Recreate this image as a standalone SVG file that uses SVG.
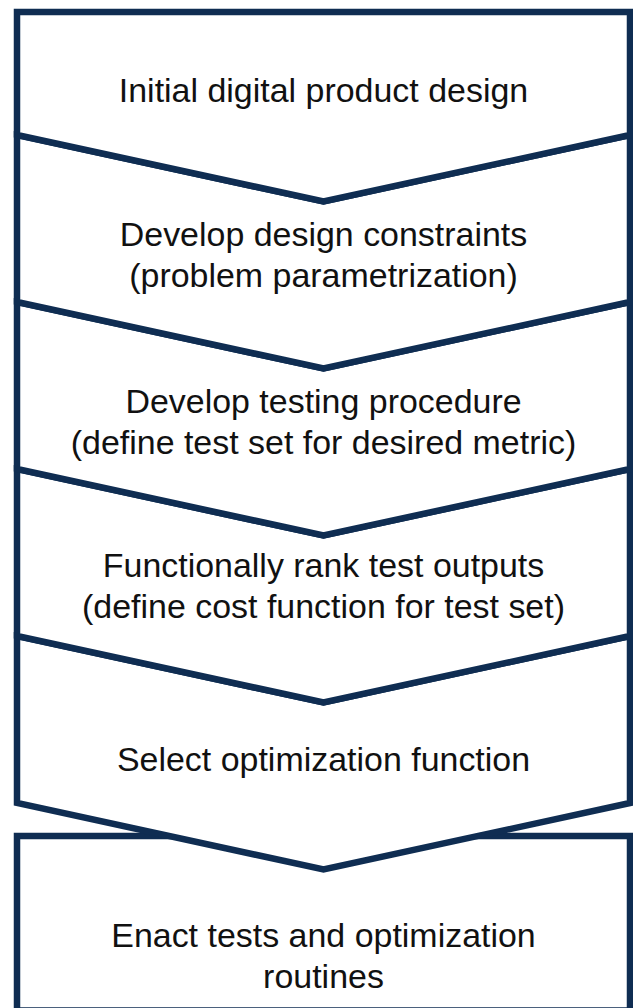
<svg xmlns="http://www.w3.org/2000/svg" width="633" height="1008" viewBox="0 0 633 1008">
  <style>
    .step { fill: #ffffff; stroke: #0f2d52; stroke-width: 6.5; stroke-linejoin: miter; }
    .label { font-family: "Liberation Sans", Arial, sans-serif; font-size: 32.5px; fill: #111111; text-anchor: middle; }
  </style>
  <rect x="0" y="0" width="633" height="1008" fill="#ffffff"/>

  <!-- final step: plain box, drawn first so the chevron above overlaps its top edge -->
  <g id="step-enact">
    <rect class="step" x="17" y="836" width="613" height="174.5"/>
    <g transform="translate(323.5 0) scale(1.045 1)">
      <text class="label" x="0" y="947">Enact tests and optimization</text>
      <text class="label" x="0" y="988">routines</text>
    </g>
  </g>

  <g id="step-select">
    <path class="step" d="M17 636 L323.5 702.5 L630 636 L630 803 L323.5 869.5 L17 803 Z"/>
    <g transform="translate(323.5 0) scale(1.045 1)">
      <text class="label" x="0" y="771">Select optimization function</text>
    </g>
  </g>

  <g id="step-rank">
    <path class="step" d="M17 469 L323.5 535.5 L630 469 L630 636 L323.5 702.5 L17 636 Z"/>
    <g transform="translate(323.5 0) scale(1.045 1)">
      <text class="label" x="0" y="577">Functionally rank test outputs</text>
      <text class="label" x="0" y="618">(define cost function for test set)</text>
    </g>
  </g>

  <g id="step-testing">
    <path class="step" d="M17 302 L323.5 368.5 L630 302 L630 469 L323.5 535.5 L17 469 Z"/>
    <g transform="translate(323.5 0) scale(1.045 1)">
      <text class="label" x="0" y="413">Develop testing procedure</text>
      <text class="label" x="0" y="454">(define test set for desired metric)</text>
    </g>
  </g>

  <g id="step-constraints">
    <path class="step" d="M17 135 L323.5 201.5 L630 135 L630 302 L323.5 368.5 L17 302 Z"/>
    <g transform="translate(323.5 0) scale(1.045 1)">
      <text class="label" x="0" y="246">Develop design constraints</text>
      <text class="label" x="0" y="287">(problem parametrization)</text>
    </g>
  </g>

  <g id="step-initial">
    <path class="step" d="M17 12 L630 12 L630 135 L323.5 201.5 L17 135 Z"/>
    <g transform="translate(323.5 0) scale(1.045 1)">
      <text class="label" x="0" y="102">Initial digital product design</text>
    </g>
  </g>

  <!-- the flow is carried by the chevron shapes themselves; no separate connectors -->
  <g id="connectors"/>
</svg>
